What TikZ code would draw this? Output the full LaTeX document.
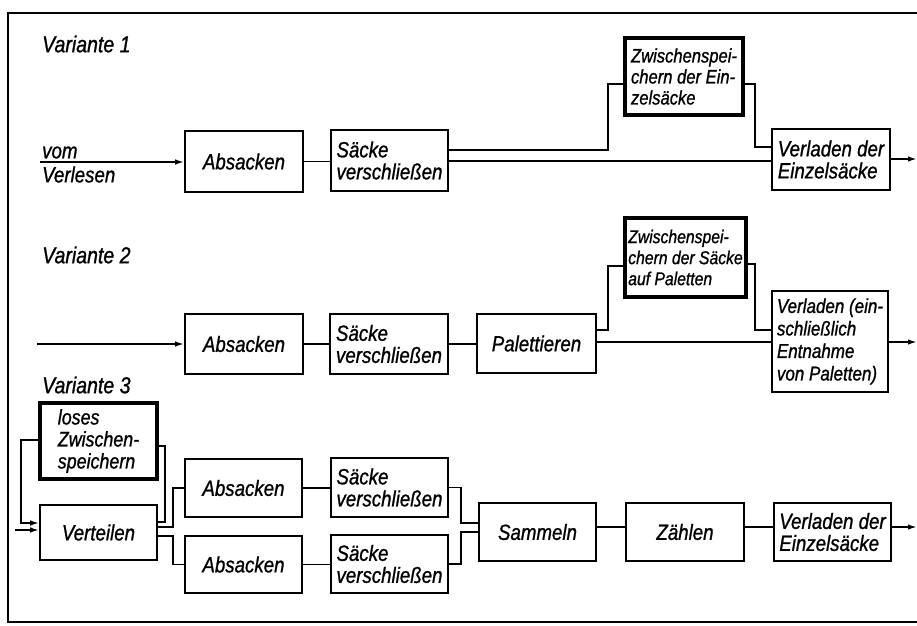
\documentclass[tikz,border=0pt]{standalone}
\usepackage{fontspec}
\setmainfont{Liberation Sans}[FakeStretch=0.85,
  ItalicFeatures={FakeStretch=0.85,FakeBold=1}]
\usetikzlibrary{arrows.meta,calc}
\begin{document}
\begin{tikzpicture}[x=1pt,y=-1pt,
  font=\itshape\fontsize{22}{22}\selectfont,
  box/.style={draw, line width=1.7pt, align=left, inner sep=3pt},
  wh/.style 2 args={minimum width=#1, minimum height=#2},
  store/.style={box, line width=4pt, font=\itshape\fontsize{19.5}{21}\selectfont},
  ln/.style={line width=1.7pt},
  arr/.style={ln, -{Latex[length=9pt,width=5.5pt]}},
  lbl/.style={anchor=west, inner sep=0pt, font=\itshape\fontsize{23}{23}\selectfont}]
\useasboundingbox (0,0) rectangle (917,625);
% frame
\draw[ln] (917,13) -- (8,13) -- (8,622) -- (917,622);

% ---------------- Variante 1
\node[lbl] (t1) at (42,44) {Variante 1};
\node[lbl, font=\itshape\fontsize{22}{22}\selectfont] (vom) at (42,152.5) {vom};
\node[lbl, font=\itshape\fontsize{22}{22}\selectfont] (verl) at (42,174.5) {Verlesen};
\node[box, wh={118pt}{61pt}] (a1) at (244,161.5) {Absacken};
\node[box, wh={117pt}{61pt}] (s1) at (389.5,160.5) {Säcke\\verschließen};
\node[store, wh={118pt}{77pt}] (z1) at (684,76.5) {Zwischenspei-\\chern der Ein-\\zelsäcke};
\node[box, wh={118pt}{61pt}] (v1) at (831,159.5) {Verladen der\\Einzelsäcke};

\coordinate (in1) at (40,162);
\draw[arr] (in1) -- (in1 -| a1.west);
\draw[ln] (a1.east) -- (a1.east -| s1.west);
\coordinate (b1) at (608,150); \coordinate (b2) at (608,84);
\coordinate (c1) at (755,84);  \coordinate (c2) at (755,147);
\draw[ln] (s1.east |- b1) -- (b1) -- (b2) -- (b2 -| z1.west);
\draw[ln] (z1.east |- c1) -- (c1) -- (c2) -- (c2 -| v1.west);
\coordinate (m1) at (450,161);
\draw[ln] (s1.east |- m1) -- (m1 -| v1.west);
\coordinate (o1) at (917,159);
\draw[arr] (v1.east |- o1) -- (o1);

% ---------------- Variante 2
\node[lbl] (t2) at (42,255) {Variante 2};
\node[box, wh={118pt}{60pt}] (a2) at (244,344) {Absacken};
\node[box, wh={118pt}{60pt}] (s2) at (389,344) {Säcke\\verschließen};
\node[box, wh={119pt}{59pt}] (p2) at (536.5,343.5) {Palettieren};
\node[store, wh={121pt}{79pt}, font=\itshape\fontsize{18.5}{21}\selectfont] (z2) at (685.5,257.5) {Zwischenspei-\\chern der Säcke\\auf Paletten};
\node[box, wh={116pt}{101pt}, font=\itshape\fontsize{20}{22.5}\selectfont] (v2) at (830,341.5) {Verladen (ein-\\schließlich\\Entnahme\\von Paletten)};

\coordinate (in2) at (37,344);
\draw[arr] (in2) -- (in2 -| a2.west);
\draw[ln] (a2.east) -- (a2.east -| s2.west);
\draw[ln] (s2.east) -- (s2.east -| p2.west);
\coordinate (b3) at (608,330); \coordinate (b4) at (608,266);
\coordinate (c3) at (755,264); \coordinate (c4) at (755,330);
\draw[ln] (p2.east |- b3) -- (b3) -- (b4) -- (b4 -| z2.west);
\draw[ln] (z2.east |- c3) -- (c3) -- (c4) -- (c4 -| v2.west);
\coordinate (m2) at (600,342);
\draw[ln] (p2.east |- m2) -- (m2 -| v2.west);
\coordinate (o2) at (917,342);
\draw[arr] (v2.east |- o2) -- (o2);

% ---------------- Variante 3
\node[lbl] (t3) at (42,385) {Variante 3};
\node[store, wh={117pt}{76pt}, font=\itshape\fontsize{21}{22}\selectfont] (lz) at (98.5,441) {loses\\Zwischen-\\speichern};
\node[box, wh={117pt}{55pt}] (vt) at (98.5,532.5) {Verteilen};
\node[box, wh={117pt}{58pt}] (a3) at (243.5,488) {Absacken};
\node[box, wh={117pt}{57pt}] (a4) at (243.5,564.5) {Absacken};
\node[box, wh={117pt}{59pt}] (s3) at (389.5,487.5) {Säcke\\verschließen};
\node[box, wh={117pt}{58pt}] (s4) at (389.5,564) {Säcke\\verschließen};
\node[box, wh={117pt}{58pt}] (sm) at (537.5,532) {Sammeln};
\node[box, wh={118pt}{58pt}] (zh) at (685,532) {Zählen};
\node[box, wh={117pt}{58pt}] (v3) at (832.5,532) {Verladen der\\Einzelsäcke};

\coordinate (in3) at (15,530);
\draw[arr] (in3) -- (in3 -| vt.west);
\coordinate (l1) at (21,440); \coordinate (l2) at (21,523);
\draw[arr] (lz.west |- l1) -- (l1) -- (l2) -- (l2 -| vt.west);
\coordinate (r1) at (165,446); \coordinate (r2) at (165,522);
\draw[ln] (lz.east |- r1) -- (r1) -- (r2) -- (r2 -| vt.east);
\coordinate (d1) at (173,527); \coordinate (d2) at (173,488);
\coordinate (d3) at (173,536); \coordinate (d4) at (173,564.5);
\draw[ln] (vt.east |- d1) -- (d1) -- (d2) -- (d2 -| a3.west);
\draw[ln] (vt.east |- d3) -- (d3) -- (d4) -- (d4 -| a4.west);
\draw[ln] (a3.east) -- (a3.east -| s3.west);
\draw[ln] (a4.east) -- (a4.east -| s4.west);
\coordinate (e1) at (461,487.5); \coordinate (e2) at (461,523);
\coordinate (e3) at (461,564);   \coordinate (e4) at (461,532);
\draw[ln] (s3.east |- e1) -- (e1) -- (e2) -- (e2 -| sm.west);
\draw[ln] (s4.east |- e3) -- (e3) -- (e4) -- (e4 -| sm.west);
\coordinate (f1) at (610,527);
\draw[ln] (sm.east |- f1) -- (f1 -| zh.west);
\draw[ln] (zh.east |- f1) -- (f1 -| v3.west);
\coordinate (o3) at (917,527);
\draw[arr] (v3.east |- o3) -- (o3);
\end{tikzpicture}
\end{document}
